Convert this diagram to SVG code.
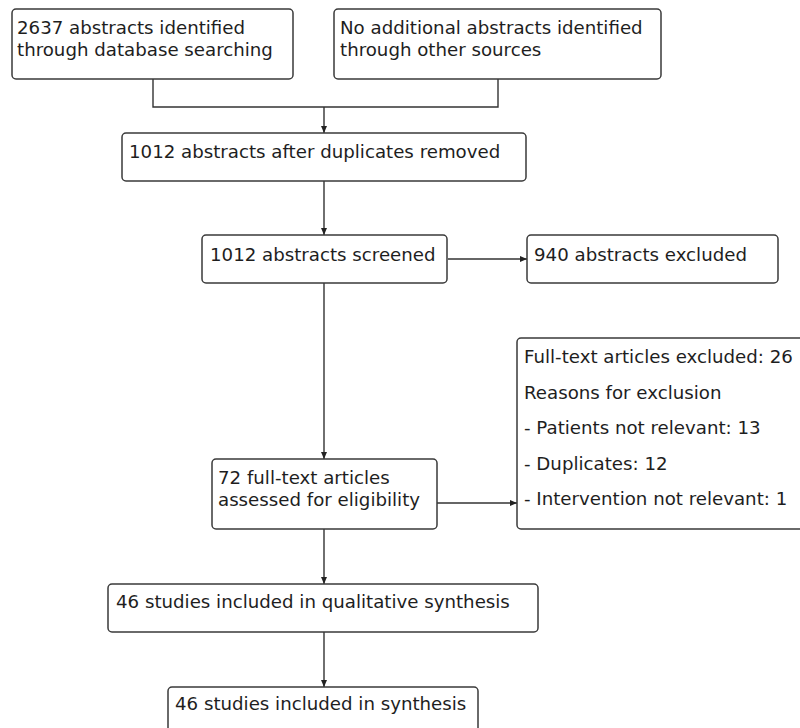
<svg xmlns="http://www.w3.org/2000/svg" width="800" height="728" viewBox="0 0 800 728">
<defs>
<style>
.box{fill:#fff;stroke:#3a3a3a;stroke-width:1.5}
.t{font-family:"DejaVu Sans","Liberation Sans",sans-serif;font-size:18.2px;fill:#1e1e1e}
.c{fill:none;stroke:#333;stroke-width:1.4}
</style>
<marker id="ah" markerWidth="8" markerHeight="8" refX="7" refY="4" orient="auto" markerUnits="userSpaceOnUse">
<path d="M0,1 L7,4 L0,7 Z" fill="#222"/>
</marker>
</defs>
<rect width="800" height="728" fill="#fff"/>
<g id="connectors">
<path class="c" d="M153,79 V107 H498 V79"/>
<path class="c" d="M324,107 V133" marker-end="url(#ah)"/>
<path class="c" d="M324,181 V235" marker-end="url(#ah)"/>
<path class="c" d="M448,259 H527" marker-end="url(#ah)"/>
<path class="c" d="M324,283 V459" marker-end="url(#ah)"/>
<path class="c" d="M437,503 H517" marker-end="url(#ah)"/>
<path class="c" d="M324,529 V584" marker-end="url(#ah)"/>
<path class="c" d="M324,632 V687" marker-end="url(#ah)"/>
</g>
<g id="n1"><rect class="box" x="12" y="9" width="281" height="70" rx="4"/>
<text class="t" x="17" y="34">2637 abstracts identified</text>
<text class="t" x="17" y="56">through database searching</text></g>
<g id="n2"><rect class="box" x="334" y="9" width="327" height="70" rx="4"/>
<text class="t" x="340" y="34">No additional abstracts identified</text>
<text class="t" x="340" y="56">through other sources</text></g>
<g id="n3"><rect class="box" x="122" y="133" width="404" height="48" rx="4"/>
<text class="t" x="129" y="158">1012 abstracts after duplicates removed</text></g>
<g id="n4"><rect class="box" x="202" y="235" width="245" height="48" rx="4"/>
<text class="t" x="210" y="261">1012 abstracts screened</text></g>
<g id="n5"><rect class="box" x="527" y="235" width="251" height="48" rx="4"/>
<text class="t" x="534" y="261">940 abstracts excluded</text></g>
<g id="n6"><rect class="box" x="212" y="459" width="225" height="70" rx="4"/>
<text class="t" x="218" y="484">72 full-text articles</text>
<text class="t" x="218" y="506">assessed for eligibility</text></g>
<g id="n7"><rect class="box" x="517" y="338" width="290" height="191" rx="4"/>
<text class="t" x="524" y="363">Full-text articles excluded: 26</text>
<text class="t" x="524" y="399">Reasons for exclusion</text>
<text class="t" x="524" y="434">- Patients not relevant: 13</text>
<text class="t" x="524" y="470">- Duplicates: 12</text>
<text class="t" x="524" y="505">- Intervention not relevant: 1</text></g>
<g id="n8"><rect class="box" x="108" y="584" width="430" height="48" rx="4"/>
<text class="t" x="116" y="608">46 studies included in qualitative synthesis</text></g>
<g id="n9"><rect class="box" x="168" y="687" width="310" height="50" rx="4"/>
<text class="t" x="175" y="710">46 studies included in synthesis</text></g>
</svg>
